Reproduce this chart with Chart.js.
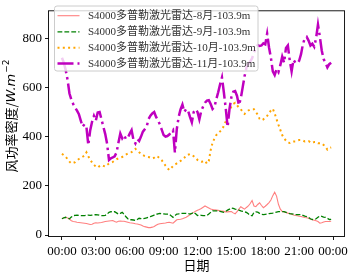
<!DOCTYPE html>
<html><head><meta charset="utf-8">
<script src="https://cdn.jsdelivr.net/npm/chart.js@4/dist/chart.umd.min.js"></script>
<style>html,body{margin:0;padding:0;background:#fff}</style>
</head><body>
<canvas id="c" width="352" height="272" style="width:352px;height:272px;display:block"></canvas>
<script>
const seriesNames = [
  'S4000多普勒激光雷达-8月-103.9m',
  'S4000多普勒激光雷达-9月-103.9m',
  'S4000多普勒激光雷达-10月-103.9m',
  'S4000多普勒激光雷达-11月-103.9m'
];
const tickHours = [0, 3, 6, 9, 12, 15, 18, 21, 24];
const tickLabels = ['00:00','03:00','06:00','09:00','12:00','15:00','18:00','21:00','00:00'];
const yTicks = [0, 200, 400, 600, 800];
const stepMinutes = 10;

const aug = [66,70,72,69,65,58,55,54,52,51,50,49,48,47,45,43,44,48,50,49,50,51,53,55,
  56,57,58,59,55,52,56,57,56,56,54,52,50,49,48,46,45,43,41,37,34,32,30,30,
  32,35,40,44,46,47,48,49,51,52,50,48,55,62,63,64,66,69,72,77,82,88,92,97,
  101,104,108,113,118,114,110,106,104,102,101,100,98,97,96,94,94,95,95,90,86,95,105,115,
  110,105,112,118,128,140,118,115,124,131,120,111,117,124,132,142,160,174,158,125,105,96,94,92,
  89,87,84,81,79,78,76,75,73,71,70,68,64,62,60,58,55,48,50,53,55,55,55,56];
const sep = [66,70,72,69,66,73,79,80,81,80,79,79,79,80,81,80,81,82,83,82,80,79,79,80,
  85,92,95,94,95,90,85,88,92,84,74,66,62,62,61,59,63,68,67,66,68,70,72,75,
  78,81,84,86,88,87,86,85,85,85,78,72,79,85,86,88,88,88,88,87,85,88,92,86,
  79,81,80,79,79,79,85,92,98,98,98,98,96,94,92,96,101,105,110,108,105,104,101,98,
  96,94,92,86,80,78,92,94,93,88,84,83,84,85,87,88,89,91,93,95,95,95,95,92,
  89,87,86,85,83,83,83,83,80,77,75,71,66,63,64,66,72,77,76,73,72,68,63,64];
const oct = [330,324,318,308,298,291,293,296,303,309,313,318,323,336,320,305,295,285,278,274,280,284,281,278,
  285,291,294,297,302,308,311,314,317,322,327,331,334,337,343,350,343,336,330,325,321,319,317,314,
  311,314,321,318,311,304,293,282,272,264,272,280,286,291,296,301,307,314,323,326,329,326,320,314,
  305,301,298,299,302,290,300,345,375,392,406,414,421,430,443,462,484,506,522,533,537,527,518,511,
  500,492,500,506,510,511,511,500,489,472,466,470,477,484,495,506,513,494,470,448,427,406,392,384,
  376,374,379,380,380,384,386,386,384,380,381,382,377,374,378,378,373,373,373,366,358,347,353,356];
const nov = [720,700,670,630,575,550,532,518,505,491,465,440,450,440,365,425,460,484,465,498,500,470,440,410,
  370,305,312,315,320,335,375,412,393,406,390,395,412,426,386,372,390,382,400,420,430,440,471,485,
  494,500,480,466,450,428,406,400,402,408,418,426,335,430,480,510,530,500,512,505,480,458,500,510,
  500,470,504,522,538,546,548,532,512,520,552,580,612,640,580,515,439,512,560,582,585,565,528,555,
  600,645,680,695,705,718,740,762,772,768,770,779,775,818,762,720,665,650,674,662,690,725,700,760,
  770,710,665,712,700,698,708,735,775,800,805,790,770,777,765,800,855,805,750,715,700,681,694,700];

const hours = aug.map((_, i) => i * stepMinutes / 60);
const toPts = arr => arr.map((v, i) => ({x: hours[i], y: v}));

const styles = [
  {color: 'rgba(255,0,0,0.5)', width: 1.1, dash: []},
  {color: '#008000', width: 1.3, dash: [4.8, 2.1]},
  {color: '#ffa500', width: 2, dash: [2, 3.3]},
  {color: '#bf00bf', width: 2.5, dash: [16, 4, 2.5, 4]}
];
const values = [aug, sep, oct, nov];

const datasets = values.map((arr, i) => ({
  label: seriesNames[i],
  data: toPts(arr),
  borderColor: styles[i].color,
  borderWidth: styles[i].width,
  borderDash: styles[i].dash,
  pointRadius: 0,
  tension: 0,
  fill: false,
  order: 4 - i
}));

const serif = '"Liberation Serif", "Times New Roman", serif';
const cjk = '"Noto Sans CJK SC", sans-serif';

const decor = {
  id: 'decor',
  afterDraw(chart) {
    const ctx = chart.ctx, a = chart.chartArea;
    ctx.save();
    // frame
    ctx.strokeStyle = '#000'; ctx.lineWidth = 0.9; ctx.setLineDash([]);
    ctx.strokeRect(a.left, a.top, a.right - a.left, a.bottom - a.top);
    // legend
    const lx = 54.5, ly = 6, lw = 203.5, lh = 65, r = 2.5;
    ctx.beginPath();
    ctx.moveTo(lx + r, ly); ctx.lineTo(lx + lw - r, ly); ctx.quadraticCurveTo(lx + lw, ly, lx + lw, ly + r);
    ctx.lineTo(lx + lw, ly + lh - r); ctx.quadraticCurveTo(lx + lw, ly + lh, lx + lw - r, ly + lh);
    ctx.lineTo(lx + r, ly + lh); ctx.quadraticCurveTo(lx, ly + lh, lx, ly + lh - r);
    ctx.lineTo(lx, ly + r); ctx.quadraticCurveTo(lx, ly, lx + r, ly);
    ctx.closePath();
    ctx.fillStyle = 'rgba(255,255,255,0.8)'; ctx.fill();
    ctx.strokeStyle = '#cccccc'; ctx.lineWidth = 1; ctx.stroke();
    const rows = [15.7, 31.8, 47.8, 63.6];
    ctx.font = '11px ' + serif.replace('"Liberation Serif"', '"Liberation Serif", "Noto Sans CJK SC"');
    ctx.textBaseline = 'middle'; ctx.textAlign = 'left'; ctx.fillStyle = '#333';
    rows.forEach((y, i) => {
      ctx.strokeStyle = styles[i].color; ctx.lineWidth = styles[i].width; ctx.setLineDash(styles[i].dash);
      ctx.beginPath(); ctx.moveTo(57.5, y); ctx.lineTo(79.5, y); ctx.stroke();
      ctx.setLineDash([]);
      ctx.fillText(seriesNames[i], 88, y + 0.5);
    });
    // x title
    ctx.fillStyle = '#000';
    ctx.font = '13px ' + cjk; ctx.textAlign = 'center';
    ctx.fillText('日期', (a.left + a.right) / 2, 265.5);
    // y title
    ctx.translate(11.5, 116); ctx.rotate(-Math.PI / 2);
    const p1 = '风功率密度/', p2 = 'W.m', p3 = '−2';
    const f1 = '13px ' + cjk, f2 = 'italic 13px "DejaVu Sans"', f3 = '9px "DejaVu Sans"';
    ctx.font = f1; const w1 = ctx.measureText(p1).width;
    ctx.font = f2; const w2 = ctx.measureText(p2).width;
    ctx.font = f3; const w3 = ctx.measureText(p3).width;
    let x0 = -(w1 + w2 + w3 + 1) / 2;
    ctx.textAlign = 'left';
    ctx.font = f1; ctx.fillText(p1, x0, 0); x0 += w1;
    ctx.font = f2; ctx.fillText(p2, x0, 0.5); x0 += w2 + 1;
    ctx.font = f3; ctx.fillText(p3, x0, -5);
    ctx.restore();
  }
};

new Chart(document.getElementById('c'), {
  type: 'line',
  data: {datasets},
  options: {
    responsive: false,
    animation: false,
    devicePixelRatio: 1,
    layout: {padding: {top: 2.7, right: 4, left: 0, bottom: 0}},
    plugins: {legend: {display: false}, tooltip: {enabled: false}},
    scales: {
      x: {
        type: 'linear', min: -1.19, max: 25.02,
        afterFit: s => { s.height = 35.5; },
        afterBuildTicks: s => { s.ticks = tickHours.map(v => ({value: v})); },
        grid: {drawOnChartArea: false, drawTicks: true, tickLength: 3.5, color: '#000', lineWidth: 0.9},
        border: {display: false},
        ticks: {
          color: '#000', padding: 4, maxRotation: 0, autoSkip: false,
          font: {family: serif, size: 13},
          callback: v => { const i = tickHours.indexOf(v); return i >= 0 ? tickLabels[i] : ''; }
        }
      },
      y: {
        type: 'linear', min: -6, max: 911,
        afterFit: s => { s.width = 48.5; },
        afterBuildTicks: s => { s.ticks = yTicks.map(v => ({value: v})); },
        grid: {drawOnChartArea: false, drawTicks: true, tickLength: 3.5, color: '#000', lineWidth: 0.9},
        border: {display: false},
        ticks: {color: '#000', padding: 3, font: {family: serif, size: 13}, callback: v => String(v)}
      }
    }
  },
  plugins: [decor]
});
</script>
</body></html>
